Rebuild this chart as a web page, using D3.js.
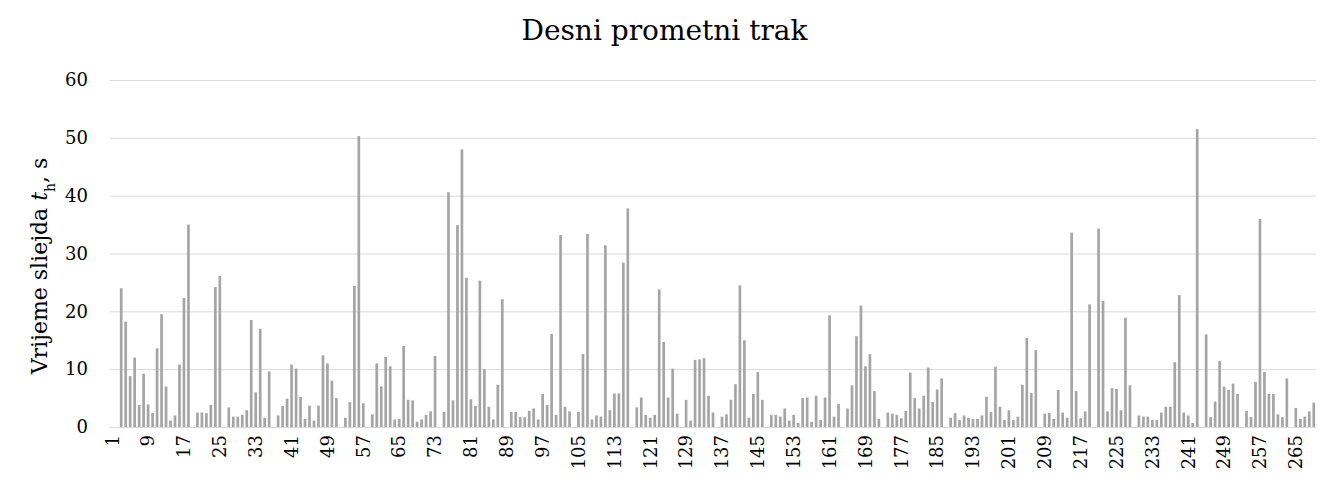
<!DOCTYPE html>
<html>
<head>
<meta charset="utf-8">
<script src="https://cdn.jsdelivr.net/npm/d3@7"></script>
<style>
  body { margin: 0; background: #fff; }
  text { font-family: "Palatino Linotype", "Book Antiqua", Palatino, "DejaVu Serif", serif; fill: #000; }
</style>
</head>
<body>
<div id="chart"></div>
<script>
// Vehicle index (1..269) and headway time per vehicle
var categories = d3.range(1, 270);

var tickLabels = [1, 9, 17, 25, 33, 41, 49, 57, 65, 73, 81, 89, 97, 105, 113, 121, 129, 137,
  145, 153, 161, 169, 177, 185, 193, 201, 209, 217, 225, 233, 241, 249, 257, 265];

var yTicks = [0, 10, 20, 30, 40, 50, 60];

var values = [
  0, 0, 24.0, 18.2, 8.8, 12.0, 3.8, 9.2, 3.9, 2.4,
  13.6, 19.5, 7.0, 1.1, 2.0, 10.8, 22.3, 35.0, 0, 2.5,
  2.5, 2.4, 3.8, 24.2, 26.1, 0, 3.4, 1.8, 1.8, 2.1,
  2.9, 18.5, 6.0, 17.0, 1.6, 9.6, 0, 2.0, 3.6, 4.9,
  10.8, 10.1, 5.2, 1.4, 3.7, 1.1, 3.7, 12.4, 11.0, 8.0,
  5.0, 0, 1.6, 4.3, 24.4, 50.3, 4.1, 0, 2.2, 11.0,
  7.0, 12.1, 10.5, 1.3, 1.4, 14.0, 4.7, 4.6, 0.9, 1.3,
  2.1, 2.7, 12.3, 0, 2.6, 40.6, 4.6, 34.9, 48.0, 25.8,
  4.8, 3.6, 25.3, 10.0, 3.5, 1.3, 7.3, 22.1, 0, 2.6,
  2.6, 1.7, 1.7, 2.8, 3.2, 1.3, 5.7, 3.8, 16.1, 2.1,
  33.2, 3.5, 2.7, 0, 2.6, 12.6, 33.4, 1.3, 2.0, 1.8,
  31.4, 2.9, 5.8, 5.8, 28.4, 37.8, 0, 3.4, 5.1, 2.1,
  1.6, 2.1, 23.8, 14.7, 5.1, 10.1, 2.3, 0, 4.7, 1.1,
  11.6, 11.7, 11.9, 5.4, 2.5, 0, 1.8, 2.2, 4.7, 7.4,
  24.5, 15.0, 1.6, 5.7, 9.5, 4.7, 0, 2.1, 2.1, 1.8,
  3.2, 1.1, 2.1, 0.7, 5.0, 5.1, 0.9, 5.4, 1.2, 5.1,
  19.3, 1.8, 4.0, 0, 3.2, 7.2, 15.7, 21.0, 10.5, 12.6,
  6.2, 1.4, 0, 2.5, 2.3, 2.1, 1.5, 2.8, 9.4, 5.0,
  3.2, 5.4, 10.3, 4.3, 6.5, 8.4, 0, 1.6, 2.4, 1.2,
  2.0, 1.6, 1.4, 1.4, 2.0, 5.2, 2.6, 10.4, 3.5, 1.2,
  2.9, 1.2, 1.8, 7.3, 15.4, 5.9, 13.3, 0, 2.3, 2.4,
  1.4, 6.4, 2.5, 1.6, 33.6, 6.2, 1.5, 2.7, 21.2, 0,
  34.3, 21.8, 2.7, 6.7, 6.6, 2.9, 18.9, 7.2, 0, 2.0,
  1.8, 1.8, 1.2, 1.2, 2.5, 3.5, 3.5, 11.2, 22.8, 2.5,
  2.0, 0.7, 51.5, 0, 16.0, 1.7, 4.4, 11.4, 7.0, 6.4,
  7.5, 5.7, 0, 2.8, 1.7, 7.8, 36.0, 9.5, 5.7, 5.7,
  2.2, 1.7, 8.4, 0, 3.3, 1.4, 1.8, 2.7, 4.2
];

var data = categories.map(function(c, i) { return { cat: c, value: values[i] }; });

var width = 1329, height = 486;
var margin = { top: 80, right: 13, bottom: 59, left: 110 };

var svg = d3.select("#chart")
  .append("svg")
  .attr("width", width)
  .attr("height", height);

var x = d3.scaleBand()
  .domain(categories)
  .range([margin.left, width - margin.right])
  .paddingInner(0.4)
  .paddingOuter(0.2);

var y = d3.scaleLinear()
  .domain([0, 60])
  .range([height - margin.bottom, margin.top]);

// gridlines + y labels
var yAxis = svg.append("g")
  .attr("transform", "translate(" + margin.left + ",0)")
  .call(d3.axisLeft(y).tickValues(yTicks).tickSize(-(width - margin.left - margin.right)).tickPadding(22));

yAxis.select(".domain").remove();
yAxis.selectAll("line").attr("stroke", "#d9d9d9").attr("stroke-width", 1);
yAxis.selectAll("text").style("font-size", "18px");

// bars
svg.append("g")
  .selectAll("rect")
  .data(data)
  .enter()
  .append("rect")
  .attr("x", function(d) { return x(d.cat); })
  .attr("y", function(d) { return y(d.value); })
  .attr("width", x.bandwidth())
  .attr("height", function(d) { return y(0) - y(d.value); })
  .attr("fill", "#a5a5a5");

// category labels, rotated
var xAxis = svg.append("g")
  .attr("transform", "translate(0," + (height - margin.bottom) + ")")
  .call(d3.axisBottom(x).tickValues(tickLabels).tickSize(0).tickPadding(0));

xAxis.select(".domain").remove();
xAxis.selectAll("text")
  .attr("transform", "rotate(-90)")
  .attr("text-anchor", "end")
  .attr("x", -8)
  .attr("y", 0)
  .attr("dy", "0.35em")
  .style("font-size", "18px");

// title
svg.append("text")
  .attr("x", width / 2)
  .attr("y", 40)
  .attr("text-anchor", "middle")
  .style("font-size", "28px")
  .text("Desni prometni trak");

// y axis title
var yTitle = svg.append("text")
  .attr("transform", "translate(47,266) rotate(-90)")
  .attr("text-anchor", "middle")
  .style("font-size", "22px");

yTitle.append("tspan").text("Vrijeme sliejda ");
yTitle.append("tspan").style("font-style", "italic").text("t");
yTitle.append("tspan").attr("baseline-shift", "sub").style("font-size", "14px").text("h");
yTitle.append("tspan").text(", s");
</script>
</body>
</html>
